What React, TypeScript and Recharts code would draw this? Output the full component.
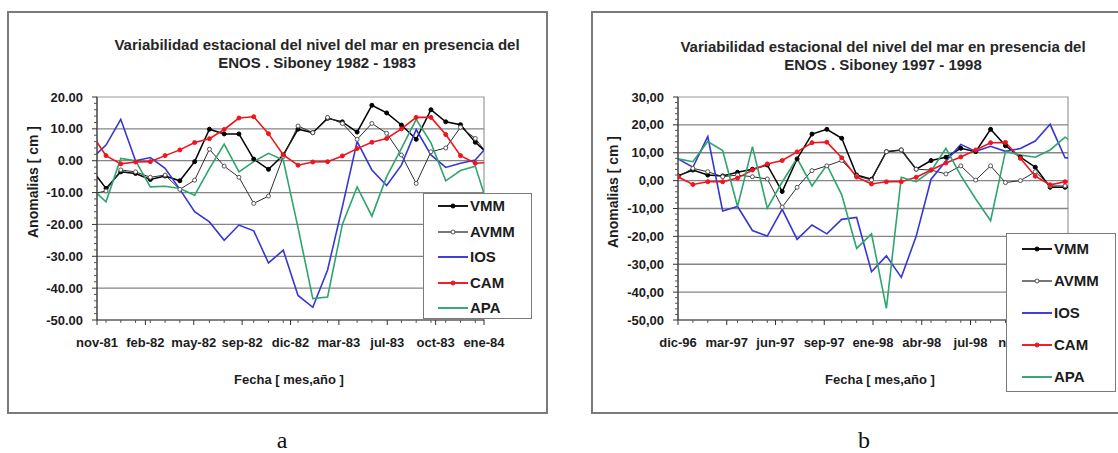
import React from 'react';
import { LineChart, Line, XAxis, YAxis, ReferenceLine, ReferenceArea, Legend } from 'recharts';

const FONT = '"Liberation Sans", Arial, Helvetica, sans-serif';
const TEXT = '#1c1c1c';

// ---------- Chart a : Siboney 1982 - 1983 ----------
const A_MONTH = [-1, 0, 1, 2, 3, 4, 5, 6, 7, 8, 9, 10, 11, 12, 13, 14, 15, 16, 17, 18, 19, 20, 21, 22, 23, 24, 25, 26];
const A_VMM = [-2.6, -8.7, -3.5, -4.0, -5.9, -4.8, -6.3, -0.3, 9.9, 8.4, 8.4, 0.5, -2.7, 1.8, 9.9, 8.8, 13.3, 12.2, 9.0, 17.4, 15.0, 11.2, 6.7, 16.0, 12.2, 11.3, 5.8, 1.6];
const A_AVMM = [-10.5, -9.5, -2.9, -3.5, -5.2, -4.5, -9.0, -6.1, 3.6, -1.7, -5.2, -13.4, -11.1, 1.3, 10.9, 8.8, 13.6, 11.7, 6.7, 11.7, 8.6, 1.8, -7.1, 2.8, 4.0, 10.5, 7.0, 1.0];
const A_IOS = [0.5, 4.9, 13.0, 0.0, 1.0, -2.4, -9.0, -16.0, -19.2, -25.0, -20.2, -22.0, -32.1, -28.1, -42.3, -46.0, -34.3, -14.5, 6.0, -2.9, -7.8, -1.4, 9.8, 1.8, -2.1, -0.8, 0.2, 5.5];
const A_CAM = [8.5, 1.6, -1.0, -0.4, -0.3, 1.6, 3.4, 5.7, 6.9, 9.8, 13.4, 13.8, 8.5, 1.8, -1.4, -0.4, -0.3, 1.5, 3.8, 5.8, 7.0, 10.0, 13.6, 13.6, 8.2, 1.6, -0.8, -0.5];
const A_APA = [-8.6, -12.9, 0.7, 0.0, -8.2, -8.0, -8.7, -10.8, -2.5, 5.2, -3.5, -0.3, 2.3, 0.2, -21.0, -43.3, -42.8, -20.0, -8.2, -17.4, -5.0, 3.9, 13.0, 5.6, -6.3, -3.1, -1.7, -16.3];
const A_TICK_LABELS = ['nov-81', 'feb-82', 'may-82', 'sep-82', 'dic-82', 'mar-83', 'jul-83', 'oct-83', 'ene-84'];
const A_Y_TICKS = [-50, -40, -30, -20, -10, 0, 10, 20];
const A_MINOR_MONTHS = [0, 1, 2, 3, 4, 5, 6, 7, 8, 9, 10, 11, 12, 13, 14, 15, 16, 17, 18, 19, 20, 21, 22, 23, 24, 25];
const A_TITLE = ['Variabilidad estacional del nivel del mar en presencia del', 'ENOS . Siboney 1982 - 1983'];

// ---------- Chart b : Siboney 1997 - 1998 ----------
const B_MONTH = [0, 1, 2, 3, 4, 5, 6, 7, 8, 9, 10, 11, 12, 13, 14, 15, 16, 17, 18, 19, 20, 21, 22, 23, 24, 25, 26, 27];
const B_VMM = [1.7, 3.8, 2.0, 1.7, 3.0, 4.1, 5.6, -3.9, 7.8, 16.7, 18.4, 15.2, 2.0, 0.5, 10.4, 11.0, 4.1, 7.2, 8.4, 11.6, 10.4, 18.4, 12.5, 8.4, 4.8, -2.4, -2.4, -2.4];
const B_AVMM = [1.4, 4.4, 3.2, 1.4, 2.0, 1.4, 0.6, -9.5, -2.4, 3.6, 5.3, 7.2, 1.7, 0.2, 10.4, 11.0, 4.1, 3.8, 2.4, 5.3, 0.2, 5.3, -0.7, 0.0, 3.2, -1.9, -1.9, -1.9];
const B_IOS = [7.8, 4.8, 15.8, -10.9, -9.3, -17.9, -19.9, -10.3, -21.1, -15.9, -19.1, -13.9, -13.2, -32.7, -27.0, -34.7, -20.0, 0.5, 7.0, 13.0, 10.5, 12.3, 10.5, 11.5, 14.2, 20.2, 8.2, 8.0];
const B_CAM = [1.4, -1.4, -0.4, -0.4, 0.9, 3.8, 6.0, 7.2, 10.3, 13.6, 13.8, 8.2, 1.3, -1.2, -0.4, -0.4, 1.2, 3.8, 6.3, 8.5, 11.0, 13.6, 13.7, 8.0, 1.6, -1.5, -0.4, -0.4];
const B_APA = [7.8, 6.8, 14.0, 10.8, -9.3, 12.2, -9.9, -0.5, 8.0, -1.9, 5.6, -5.1, -24.3, -19.1, -45.8, 1.2, -0.4, 3.5, 11.6, 1.8, -6.6, -14.4, 10.5, 9.2, 8.4, 11.0, 15.6, 12.0];
const B_TICK_LABELS = ['dic-96', 'mar-97', 'jun-97', 'sep-97', 'ene-98', 'abr-98', 'jul-98', 'nov-98', 'feb-99'];
const B_Y_TICKS = [-50, -40, -30, -20, -10, 0, 10, 20, 30];
const B_MINOR_MONTHS = [0, 1, 2, 3, 4, 5, 6, 7, 8, 9, 10, 11, 12, 13, 14, 15, 16, 17, 18, 19, 20, 21, 22, 23, 24, 25, 26];
const B_TITLE = ['Variabilidad estacional del nivel del mar en presencia del', 'ENOS . Siboney 1997 - 1998'];

const X_TITLE = 'Fecha [ mes,año ]';
const Y_TITLE = 'Anomalias [ cm ]';

type SeriesStyle = { key: string; color: string; width: number; dot: 'filled' | 'open' | 'none'; dotStroke: string; dotFill: string };
const SERIES: SeriesStyle[] = [
  { key: 'VMM', color: '#000000', width: 1.5, dot: 'filled', dotStroke: '#000000', dotFill: '#000000' },
  { key: 'AVMM', color: '#2e2e2e', width: 1.0, dot: 'open', dotStroke: '#555555', dotFill: '#ffffff' },
  { key: 'IOS', color: '#3636d6', width: 1.6, dot: 'none', dotStroke: '', dotFill: '' },
  { key: 'CAM', color: '#f0141e', width: 1.6, dot: 'filled', dotStroke: '#f0141e', dotFill: '#f0141e' },
  { key: 'APA', color: '#2ea46e', width: 1.6, dot: 'none', dotStroke: '', dotFill: '' },
];

function buildRows(months: number[], vmm: number[], avmm: number[], ios: number[], cam: number[], apa: number[]) {
  return months.map((m, k) => ({ m, VMM: vmm[k], AVMM: avmm[k], IOS: ios[k], CAM: cam[k], APA: apa[k] }));
}

const A_ROWS = buildRows(A_MONTH, A_VMM, A_AVMM, A_IOS, A_CAM, A_APA);
const B_ROWS = buildRows(B_MONTH, B_VMM, B_AVMM, B_IOS, B_CAM, B_APA);

type PanelCfg = {
  rows: any[];
  xDomain: [number, number];
  minorMonths: number[];
  labels: string[];
  yTicks: number[];
  fmt: (v: number) => string;
  plotLeft: number;
  plotRight: number;
  legend: { left: number; top: number; width: number; height: number; first: number; step: number; lx0: number; lx1: number; tx: number };
};

function Panel({ cfg }: { cfg: PanelCfg }) {
  const { rows, xDomain, minorMonths, labels, yTicks, fmt, plotLeft, plotRight, legend } = cfg;
  const YW = 60;
  const XH = 30;
  const yDomain: [number, number] = [yTicks[0], yTicks[yTicks.length - 1]];
  const labelPos = labels.map((_, k) => xDomain[0] + (k * (xDomain[1] - xDomain[0])) / (labels.length - 1));
  const minorOnly = minorMonths.filter((m) => !labelPos.some((t) => Math.abs(t - m) < 0.3));
  const xTicks = [...labelPos, ...minorOnly].sort((p, q) => p - q);
  const yAll: number[] = [];
  for (let v = yDomain[0]; v <= yDomain[1] + 1e-9; v += 2) yAll.push(v);

  const xTick = (p: any) => {
    const v = p.payload.value;
    const x = p.x;
    const y = p.y;
    const idx = labelPos.findIndex((t) => Math.abs(t - v) < 1e-6);
    if (idx >= 0) {
      return (
        <g>
          <line x1={x} x2={x} y1={y} y2={y + 5} stroke="#333" strokeWidth={1} />
          <text x={x} y={y + 22} dy="0.35em" textAnchor="middle" fontFamily={FONT} fontSize={13} fontWeight="bold" fill={TEXT}>
            {labels[idx]}
          </text>
        </g>
      );
    }
    return <line x1={x} x2={x} y1={y} y2={y + 3} stroke="#555" strokeWidth={1} />;
  };

  const yTick = (p: any) => {
    const v = p.payload.value;
    const x = p.x;
    const y = p.y;
    const major = Math.abs(v % 10) < 1e-6;
    if (major) {
      return (
        <g>
          <line x1={x - 5} x2={x} y1={y} y2={y} stroke="#333" strokeWidth={1} />
          <text x={x - 14} y={y} dy="0.35em" textAnchor="end" fontFamily={FONT} fontSize={13} fontWeight="bold" fill={TEXT}>
            {fmt(v)}
          </text>
        </g>
      );
    }
    return <line x1={x - 3} x2={x} y1={y} y2={y} stroke="#555" strokeWidth={1} />;
  };

  const legendContent = (props: any) => {
    const raw: any[] = props.payload || [];
    const items = [...raw].sort(
      (p, q) => SERIES.findIndex((s) => s.key === p.dataKey) - SERIES.findIndex((s) => s.key === q.dataKey)
    );
    return (
      <div
        style={{
          width: legend.width,
          height: legend.height,
          boxSizing: 'border-box',
          border: '1px solid #7a7a7a',
          background: '#ffffff',
          position: 'relative',
        }}
      >
        {items.map((it: any, k: number) => {
          const s = SERIES.find((q) => q.key === it.dataKey) || SERIES[k];
          const cy = legend.first + k * legend.step - 1;
          const mx = (legend.lx0 + legend.lx1) / 2;
          return (
            <div key={s.key} style={{ position: 'absolute', left: 0, top: cy - 10, width: legend.width - 2, height: 20 }}>
              <svg width={legend.width - 2} height={20} style={{ position: 'absolute', left: 0, top: 0 }}>
                <line x1={legend.lx0 - 1} x2={legend.lx1 - 1} y1={10} y2={10} stroke={s.color} strokeWidth={s.width + 0.3} />
                {s.dot !== 'none' && <circle cx={mx - 1} cy={10} r={2} fill={s.dotFill} stroke={s.dotStroke} strokeWidth={1} />}
              </svg>
              <span
                style={{
                  position: 'absolute',
                  left: legend.tx - 1,
                  top: 0,
                  lineHeight: '20px',
                  fontFamily: FONT,
                  fontSize: 15,
                  fontWeight: 'bold',
                  color: TEXT,
                  whiteSpace: 'nowrap',
                }}
              >
                {it.value}
              </span>
            </div>
          );
        })}
      </div>
    );
  };

  return (
    <LineChart
      width={560}
      height={453}
      data={rows}
      margin={{ top: 97, right: 560 - plotRight, bottom: 453 - 320 - XH, left: plotLeft - YW }}
    >
      <ReferenceArea
        x1={xDomain[0]}
        x2={xDomain[1]}
        y1={yDomain[0]}
        y2={yDomain[1]}
        fill="#ffffff"
        fillOpacity={0}
        stroke="#9a9a9a"
        strokeWidth={1.2}
        ifOverflow="visible"
      />
      {yTicks
        .filter((v) => v !== yDomain[0] && v !== yDomain[1])
        .map((v) => (
          <ReferenceLine key={v} y={v} stroke="#858585" strokeWidth={1.3} />
        ))}
      <XAxis
        type="number"
        dataKey="m"
        domain={xDomain}
        allowDataOverflow
        ticks={xTicks}
        interval={0}
        tickSize={0}
        tickMargin={0}
        tickLine={false}
        height={XH}
        axisLine={{ stroke: '#3a3a3a', strokeWidth: 1.2 }}
        tick={xTick}
      />
      <YAxis
        type="number"
        domain={yDomain}
        allowDataOverflow
        ticks={yAll}
        interval={0}
        tickSize={0}
        tickMargin={0}
        tickLine={false}
        width={YW}
        axisLine={{ stroke: '#3a3a3a', strokeWidth: 1.2 }}
        tick={yTick}
      />
      {SERIES.map((s) => (
        <Line
          key={s.key}
          type="linear"
          dataKey={s.key}
          name={s.key}
          stroke={s.color}
          strokeWidth={s.width}
          dot={s.dot === 'none' ? false : { r: 2, fill: s.dotFill, stroke: s.dotStroke, strokeWidth: 1 }}
          activeDot={false}
          isAnimationActive={false}
        />
      ))}
      <Legend
        layout="vertical"
        align="center"
        verticalAlign="middle"
        width={legend.width}
        height={legend.height}
        wrapperStyle={{ left: legend.left, top: legend.top, width: legend.width, height: legend.height }}
        content={legendContent}
      />
    </LineChart>
  );
}

const fmtDot = (v: number) => v.toFixed(2);
const fmtComma = (v: number) => v.toFixed(2).replace('.', ',');

const A_CFG: PanelCfg = {
  rows: A_ROWS,
  xDomain: [-0.61, 25.59],
  minorMonths: A_MINOR_MONTHS,
  labels: A_TICK_LABELS,
  yTicks: A_Y_TICKS,
  fmt: fmtDot,
  plotLeft: 97,
  plotRight: 484,
  legend: { left: 423, top: 193, width: 109, height: 126, first: 13, step: 25.5, lx0: 15, lx1: 45, tx: 47 },
};

const B_CFG: PanelCfg = {
  rows: B_ROWS,
  xDomain: [0, 26.2],
  minorMonths: B_MINOR_MONTHS,
  labels: B_TICK_LABELS,
  yTicks: B_Y_TICKS,
  fmt: fmtComma,
  plotLeft: 120,
  plotRight: 510,
  legend: { left: 448, top: 233, width: 110, height: 159, first: 16, step: 32, lx0: 16, lx1: 46, tx: 48 },
};

function Title({ cx, top, lines }: { cx: number; top: number; lines: string[] }) {
  return (
    <div
      style={{
        position: 'absolute',
        left: cx - 260,
        top,
        width: 520,
        textAlign: 'center',
        fontFamily: FONT,
        fontSize: 15,
        fontWeight: 'bold',
        lineHeight: '18px',
        color: '#262626',
        whiteSpace: 'nowrap',
      }}
    >
      {lines.map((l) => (
        <div key={l}>{l}</div>
      ))}
    </div>
  );
}

function CenterText({ cx, cy, text, rotate, size }: { cx: number; cy: number; text: string; rotate?: boolean; size: number }) {
  return (
    <div
      style={{
        position: 'absolute',
        left: cx - 120,
        top: cy - 10,
        width: 240,
        height: 20,
        lineHeight: '20px',
        textAlign: 'center',
        fontFamily: FONT,
        fontSize: size,
        fontWeight: 'bold',
        color: TEXT,
        whiteSpace: 'nowrap',
        transform: rotate ? 'rotate(-90deg)' : undefined,
      }}
    >
      {text}
    </div>
  );
}

export default function App() {
  return (
    <div style={{ position: 'absolute', left: 0, top: 0, width: 1118, height: 453, overflow: 'hidden', background: '#ffffff' }}>
      <div style={{ position: 'absolute', left: 7, top: 11, width: 541, height: 403, border: '2px solid #7a7a7a', boxSizing: 'border-box' }} />
      <div style={{ position: 'absolute', left: 591, top: 11, width: 560, height: 403, border: '2px solid #7a7a7a', boxSizing: 'border-box' }} />

      <Title cx={317} top={36} lines={A_TITLE} />
      <Title cx={883} top={38} lines={B_TITLE} />

      <CenterText cx={33} cy={182} text={Y_TITLE} rotate size={14} />
      <CenterText cx={613} cy={192} text={Y_TITLE} rotate size={14} />
      <CenterText cx={289} cy={380} text={X_TITLE} size={13} />
      <CenterText cx={880} cy={380} text={X_TITLE} size={13} />

      <div style={{ position: 'absolute', left: 0, top: 0, width: 560, height: 453 }}>
        <Panel cfg={A_CFG} />
      </div>
      <div style={{ position: 'absolute', left: 558, top: 0, width: 560, height: 453 }}>
        <Panel cfg={B_CFG} />
      </div>

      <div style={{ position: 'absolute', left: 262, top: 428, width: 40, textAlign: 'center', fontFamily: '"Liberation Serif", "Times New Roman", serif', fontSize: 24, lineHeight: '24px', color: '#111' }}>a</div>
      <div style={{ position: 'absolute', left: 844, top: 428, width: 40, textAlign: 'center', fontFamily: '"Liberation Serif", "Times New Roman", serif', fontSize: 24, lineHeight: '24px', color: '#111' }}>b</div>
    </div>
  );
}
